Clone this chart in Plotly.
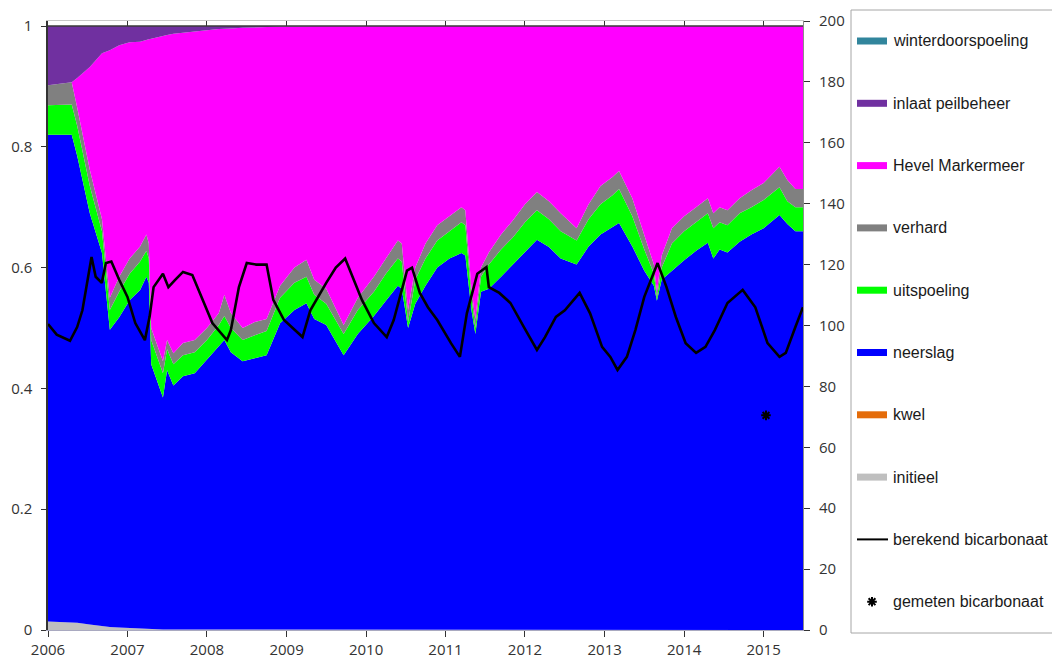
import numpy as np
import plotly.graph_objects as go

# ---- water balance fractions (stacked, bottom to top) ----
dates = [
    "2006-01-01", "2006-04-20", "2006-05-15", "2006-07-12", "2006-09-06", "2006-10-12", "2006-11-24",
    "2007-01-11", "2007-02-28", "2007-03-29", "2007-04-09", "2007-04-20", "2007-06-13", "2007-07-02", "2007-07-31",
    "2007-09-13", "2007-11-06", "2008-01-01", "2008-02-25", "2008-03-21", "2008-04-20", "2008-06-13", "2008-08-08",
    "2008-10-01", "2008-12-02", "2009-02-06", "2009-04-02", "2009-05-08", "2009-07-02", "2009-09-20", "2009-11-24",
    "2010-02-06", "2010-04-02", "2010-05-27", "2010-06-14", "2010-07-13", "2010-08-15", "2010-10-01", "2010-11-24",
    "2011-01-19", "2011-03-15", "2011-04-02", "2011-04-30", "2011-05-18", "2011-06-13", "2011-07-19", "2011-09-13",
    "2011-11-06", "2012-01-01", "2012-02-25", "2012-04-20", "2012-06-13", "2012-08-25", "2012-10-19", "2012-12-13",
    "2013-02-06", "2013-03-08", "2013-05-08", "2013-07-02", "2013-08-15", "2013-08-29", "2013-09-20", "2013-11-06",
    "2014-01-01", "2014-02-25", "2014-04-20", "2014-05-15", "2014-06-13", "2014-07-19", "2014-09-13", "2014-11-06",
    "2015-01-01", "2015-03-15", "2015-04-20", "2015-05-27", "2015-07-01",
]

initieel = [
    0.014, 0.013, 0.012, 0.009, 0.006, 0.005, 0.004,
    0.003, 0.003, 0.002, 0.002, 0.002, 0.001, 0.001, 0.001,
    0.001, 0.000, 0.000, 0.000, 0.000, 0.000, 0.000, 0.000,
    0.000, 0.000, 0.000, 0.000, 0.000, 0.000, 0.000, 0.000,
    0.000, 0.000, 0.000, 0.000, 0.000, 0.000, 0.000, 0.000,
    0.000, 0.000, 0.000, 0.000, 0.000, 0.000, 0.000, 0.000,
    0.000, 0.000, 0.000, 0.000, 0.000, 0.000, 0.000, 0.000,
    0.000, 0.000, 0.000, 0.000, 0.000, 0.000, 0.000, 0.000,
    0.000, 0.000, 0.000, 0.000, 0.000, 0.000, 0.000, 0.000,
    0.000, 0.000, 0.000, 0.000, 0.000,
]

kwel = [
    0.0, 0.0, 0.0, 0.0, 0.0, 0.0, 0.0,
    0.0, 0.0, 0.0, 0.0, 0.0, 0.0, 0.0, 0.0,
    0.0, 0.0, 0.0, 0.0, 0.0, 0.0, 0.0, 0.0,
    0.0, 0.0, 0.0, 0.0, 0.0, 0.0, 0.0, 0.0,
    0.0, 0.0, 0.0, 0.0, 0.0, 0.0, 0.0, 0.0,
    0.0, 0.0, 0.0, 0.0, 0.0, 0.0, 0.0, 0.0,
    0.0, 0.0, 0.0, 0.0, 0.0, 0.0, 0.0, 0.0,
    0.0, 0.0, 0.0, 0.0, 0.0, 0.0, 0.0, 0.0,
    0.0, 0.0, 0.0, 0.0, 0.0, 0.0, 0.0, 0.0,
    0.0, 0.0, 0.0, 0.0, 0.0,
]

neerslag = [
    0.806, 0.807, 0.773, 0.681, 0.618, 0.492, 0.514,
    0.543, 0.560, 0.583, 0.573, 0.438, 0.384, 0.429, 0.404,
    0.419, 0.425, 0.447, 0.470, 0.480, 0.460, 0.445, 0.450,
    0.455, 0.508, 0.530, 0.541, 0.515, 0.505, 0.455, 0.490,
    0.520, 0.545, 0.570, 0.565, 0.500, 0.540, 0.570, 0.600,
    0.615, 0.624, 0.620, 0.530, 0.490, 0.560, 0.565, 0.585,
    0.605, 0.625, 0.646, 0.634, 0.615, 0.605, 0.635, 0.655,
    0.668, 0.674, 0.635, 0.595, 0.570, 0.545, 0.580, 0.595,
    0.612, 0.628, 0.641, 0.615, 0.630, 0.625, 0.643, 0.655,
    0.665, 0.687, 0.672, 0.660, 0.660,
]

uitspoeling = [
    0.049, 0.050, 0.050, 0.045, 0.036, 0.033, 0.042,
    0.044, 0.047, 0.043, 0.040, 0.040, 0.040, 0.035, 0.035,
    0.035, 0.035, 0.033, 0.035, 0.040, 0.040, 0.035, 0.038,
    0.040, 0.042, 0.045, 0.044, 0.040, 0.035, 0.035, 0.040,
    0.040, 0.045, 0.045, 0.045, 0.010, 0.040, 0.045, 0.045,
    0.045, 0.051, 0.050, 0.020, 0.010, 0.025, 0.040, 0.045,
    0.045, 0.050, 0.049, 0.046, 0.045, 0.040, 0.045, 0.050,
    0.052, 0.056, 0.050, 0.035, 0.020, 0.005, 0.020, 0.045,
    0.048, 0.047, 0.049, 0.050, 0.045, 0.045, 0.047, 0.045,
    0.047, 0.046, 0.038, 0.040, 0.040,
]

verhard = [
    0.033, 0.037, 0.030, 0.027, 0.020, 0.020, 0.025,
    0.025, 0.025, 0.027, 0.025, 0.020, 0.020, 0.015, 0.018,
    0.020, 0.020, 0.020, 0.020, 0.035, 0.025, 0.020, 0.022,
    0.020, 0.020, 0.025, 0.028, 0.025, 0.025, 0.015, 0.020,
    0.025, 0.025, 0.030, 0.030, 0.020, 0.020, 0.025, 0.025,
    0.025, 0.025, 0.025, 0.015, 0.015, 0.015, 0.020, 0.025,
    0.028, 0.030, 0.030, 0.030, 0.030, 0.020, 0.025, 0.030,
    0.030, 0.030, 0.030, 0.025, 0.015, 0.010, 0.020, 0.025,
    0.025, 0.025, 0.025, 0.025, 0.025, 0.025, 0.025, 0.028,
    0.028, 0.034, 0.035, 0.030, 0.030,
]

inlaat_peilbeheer = [
    0.098, 0.093, 0.086, 0.068, 0.045, 0.040, 0.032,
    0.027, 0.026, 0.024, 0.022, 0.021, 0.016, 0.015, 0.013,
    0.011, 0.009, 0.007, 0.005, 0.004, 0.004, 0.003, 0.002,
    0.002, 0.001, 0.001, 0.000, 0.000, 0.000, 0.000, 0.000,
    0.000, 0.000, 0.000, 0.000, 0.000, 0.000, 0.000, 0.000,
    0.000, 0.000, 0.000, 0.000, 0.000, 0.000, 0.000, 0.000,
    0.000, 0.000, 0.000, 0.000, 0.000, 0.000, 0.000, 0.000,
    0.000, 0.000, 0.000, 0.000, 0.000, 0.000, 0.000, 0.000,
    0.000, 0.000, 0.000, 0.000, 0.000, 0.000, 0.000, 0.000,
    0.000, 0.000, 0.000, 0.000, 0.000,
]

winterdoorspoeling = [
    0.0, 0.0, 0.0, 0.0, 0.0, 0.0, 0.0,
    0.0, 0.0, 0.0, 0.0, 0.0, 0.0, 0.0, 0.0,
    0.0, 0.0, 0.0, 0.0, 0.0, 0.0, 0.0, 0.0,
    0.0, 0.0, 0.0, 0.0, 0.0, 0.0, 0.0, 0.0,
    0.0, 0.0, 0.0, 0.0, 0.0, 0.0, 0.0, 0.0,
    0.0, 0.0, 0.0, 0.0, 0.0, 0.0, 0.0, 0.0,
    0.0, 0.0, 0.0, 0.0, 0.0, 0.0, 0.0, 0.0,
    0.0, 0.0, 0.0, 0.0, 0.0, 0.0, 0.0, 0.0,
    0.0, 0.0, 0.0, 0.0, 0.0, 0.0, 0.0, 0.0,
    0.0, 0.0, 0.0, 0.0, 0.0,
]

# Hevel Markermeer takes the remaining share so that all sources sum to 1
others = (np.array(initieel) + np.array(kwel) + np.array(neerslag) + np.array(uitspoeling)
          + np.array(verhard) + np.array(inlaat_peilbeheer) + np.array(winterdoorspoeling))
hevel_markermeer = np.clip(1.0 - others, 0.0, None)

# ---- bicarbonate (mg/l, right axis) ----
bic_dates = [
    "2006-01-01", "2006-02-10", "2006-04-12", "2006-05-15", "2006-06-08", "2006-06-27", "2006-07-20",
    "2006-08-08", "2006-09-05", "2006-09-24", "2006-10-19", "2006-11-24", "2007-01-01", "2007-02-06",
    "2007-03-22", "2007-04-13", "2007-05-01", "2007-06-13", "2007-07-08", "2007-08-08", "2007-09-13",
    "2007-10-26", "2007-12-13", "2008-01-26", "2008-04-02", "2008-04-20", "2008-05-27", "2008-07-02",
    "2008-08-15", "2008-10-01", "2008-11-01", "2008-12-20", "2009-03-15", "2009-04-20", "2009-07-02",
    "2009-08-15", "2009-09-27", "2009-10-26", "2009-12-13", "2010-02-06", "2010-04-06", "2010-05-08",
    "2010-07-08", "2010-07-31", "2010-09-05", "2010-10-12", "2010-11-24", "2011-01-26", "2011-03-08",
    "2011-04-09", "2011-05-27", "2011-07-08", "2011-07-19", "2011-09-05", "2011-10-26", "2011-12-27",
    "2012-02-25", "2012-04-02", "2012-05-22", "2012-07-02", "2012-09-08", "2012-10-26", "2012-12-20",
    "2013-01-27", "2013-03-01", "2013-04-13", "2013-05-22", "2013-07-02", "2013-09-01", "2013-10-12",
    "2013-11-24", "2014-01-08", "2014-02-25", "2014-04-09", "2014-05-22", "2014-07-19", "2014-09-27",
    "2014-11-24", "2015-01-19", "2015-03-15", "2015-04-13", "2015-05-27", "2015-07-01",
]
berekend_bicarbonaat = [
    100.5, 97.0, 95.0, 99.5, 105.0, 112.6, 122.5,
    116.0, 114.0, 120.5, 121.0, 115.0, 109.4, 100.8,
    95.2, 103.0, 112.6, 117.0, 112.6, 115.0, 117.6,
    116.6, 108.4, 100.8, 95.2, 98.5, 112.6, 120.5,
    120.0, 120.0, 108.4, 101.8, 96.2, 105.0, 114.0,
    119.0, 122.0, 117.0, 108.4, 100.8, 96.2, 101.8,
    118.0, 119.0, 110.7, 106.0, 101.8, 94.2, 89.7,
    104.0, 117.0, 119.2, 112.6, 110.7, 107.4, 99.5,
    92.0, 96.2, 102.8, 105.0, 110.7, 104.0, 93.0,
    89.7, 85.4, 89.7, 98.5, 109.4, 120.5, 112.6,
    102.8, 94.2, 91.0, 93.0, 98.5, 107.4, 111.7,
    106.0, 94.2, 89.7, 91.0, 99.5, 106.0,
]

gemeten_dates = ["2015-01-12"]
gemeten_bicarbonaat = [70.5]

# ---- styling ----
colors = {
    "winterdoorspoeling": "#31859C",
    "inlaat peilbeheer": "#7030A0",
    "Hevel Markermeer": "#FF00FF",
    "verhard": "#808080",
    "uitspoeling": "#00FF00",
    "neerslag": "#0000FF",
    "kwel": "#E46C0A",
    "initieel": "#BFBFBF",
}

W, H = 1052, 662
ML, MR, MT, MB = 48, 1, 21, 32
PW, PH = W - ML - MR, H - MT - MB
plot_right_px = 803
x_dom_end = (plot_right_px - ML) / PW

def px_x(px):
    return (px - ML) / PW

def px_y(py):
    return (H - MB - py) / PH

fig = go.Figure()

stack = [
    ("initieel", initieel),
    ("kwel", kwel),
    ("neerslag", neerslag),
    ("uitspoeling", uitspoeling),
    ("verhard", verhard),
    ("Hevel Markermeer", hevel_markermeer),
    ("inlaat peilbeheer", inlaat_peilbeheer),
    ("winterdoorspoeling", winterdoorspoeling),
]
for name, vals in stack:
    fig.add_trace(go.Scatter(
        x=dates, y=vals, name=name, mode="lines", stackgroup="bron",
        line=dict(width=0, color=colors[name]), fillcolor=colors[name],
        showlegend=False, hoverinfo="skip",
    ))

fig.add_trace(go.Scatter(
    x=bic_dates, y=berekend_bicarbonaat, name="berekend bicarbonaat", mode="lines",
    line=dict(color="black", width=2.6), yaxis="y2", showlegend=False,
))
star = dict(symbol="asterisk-open", size=8, color="black", line=dict(color="black", width=2))
fig.add_trace(go.Scatter(
    x=gemeten_dates, y=gemeten_bicarbonaat, name="gemeten bicarbonaat", mode="markers",
    marker=star, yaxis="y2", showlegend=False,
))
# carrier for the mirrored top axis
fig.add_trace(go.Scatter(x=[dates[0]], y=[0], xaxis="x4", mode="markers",
                         marker=dict(opacity=0), showlegend=False, hoverinfo="skip"))

tick_font = dict(family="Open Sans", size=15, color="#333333")

fig.update_layout(
    width=W, height=H,
    margin=dict(l=ML, r=MR, t=MT, b=MB),
    paper_bgcolor="white", plot_bgcolor="rgba(0,0,0,0)",
    showlegend=False,
    xaxis=dict(
        domain=[0, x_dom_end], type="date", range=["2006-01-01", "2015-07-01"],
        dtick="M12", tick0="2006-01-01", tickformat="%Y",
        showgrid=False, zeroline=False, showline=True, linecolor="#A9A9C0", linewidth=1,
        ticks="outside", ticklen=6, tickcolor="#333333", tickfont=tick_font,
    ),
    xaxis4=dict(
        domain=[0, x_dom_end], type="date", range=["2006-01-01", "2015-07-01"], overlaying="x",
        side="top", anchor="y", dtick="M12", tick0="2006-01-01", showticklabels=False,
        showgrid=False, zeroline=False, showline=True, linecolor="#C8C8C8",
        ticks="inside", ticklen=5, tickcolor="#333333",
    ),
    yaxis=dict(
        range=[0, 1.0083], tickvals=[0, 0.2, 0.4, 0.6, 0.8, 1.0],
        ticktext=["0", "0.2", "0.4", "0.6", "0.8", "1"],
        showgrid=False, zeroline=False, showline=True, linecolor="#333333", linewidth=1.5,
        ticks="outside", ticklen=5, tickcolor="#333333", tickfont=tick_font, ticklabelstandoff=6,
    ),
    yaxis2=dict(
        range=[0, 200], dtick=20, overlaying="y", side="right", anchor="x",
        showgrid=False, zeroline=False, showline=True, linecolor="#8C8C8C",
        ticks="outside", ticklen=6, tickcolor="#333333", tickfont=tick_font, ticklabelstandoff=6,
    ),
)

shapes = [
    # dark edge at the 100 % level
    dict(type="line", xref="x domain", yref="y", x0=0, x1=1, y0=1.0, y1=1.0,
         line=dict(color="#3A3A3A", width=1.5), layer="above"),
    # legend frame
    dict(type="rect", xref="paper", yref="paper", x0=px_x(851), x1=px_x(1070),
         y0=px_y(633), y1=px_y(10), line=dict(color="#A6A6A6", width=1),
         layer="below"),
]
annotations = []

legend_entries = [
    ("winterdoorspoeling", "area"),
    ("inlaat peilbeheer", "area"),
    ("Hevel Markermeer", "area"),
    ("verhard", "area"),
    ("uitspoeling", "area"),
    ("neerslag", "area"),
    ("kwel", "area"),
    ("initieel", "area"),
    ("berekend bicarbonaat", "line"),
    ("gemeten bicarbonaat", "marker"),
]
legend_top_px, legend_step_px = 41, 62.3
legend_font = dict(family="Liberation Sans", size=16, color="#1A1A1A")
for i, (label, kind) in enumerate(legend_entries):
    cy = legend_top_px + i * legend_step_px
    if kind == "area":
        shapes.append(dict(type="rect", xref="paper", yref="paper",
                           x0=px_x(857), x1=px_x(887), y0=px_y(cy + 3.5), y1=px_y(cy - 3.5),
                           fillcolor=colors[label], line=dict(width=0)))
    elif kind == "line":
        shapes.append(dict(type="line", xref="paper", yref="paper",
                           x0=px_x(857), x1=px_x(888), y0=px_y(cy), y1=px_y(cy),
                           line=dict(color="black", width=2)))
    else:
        # small helper axes holding only the legend symbol
        fig.update_layout(
            xaxis3=dict(domain=[px_x(866), px_x(878)], range=[0, 1], visible=False, anchor="y3"),
            yaxis3=dict(domain=[px_y(cy + 6), px_y(cy - 6)], range=[0, 1], visible=False, anchor="x3"),
        )
        fig.add_trace(go.Scatter(
            x=[0.5], y=[0.5], xaxis="x3", yaxis="y3", mode="markers", marker=star,
            showlegend=False, hoverinfo="skip", cliponaxis=False,
        ))
    annotations.append(dict(
        xref="paper", yref="paper", x=px_x(891), y=px_y(cy), text=label, showarrow=False,
        xanchor="left", yanchor="middle", font=legend_font,
    ))

fig.update_layout(shapes=shapes, annotations=annotations)
fig.write_html("out.html")
